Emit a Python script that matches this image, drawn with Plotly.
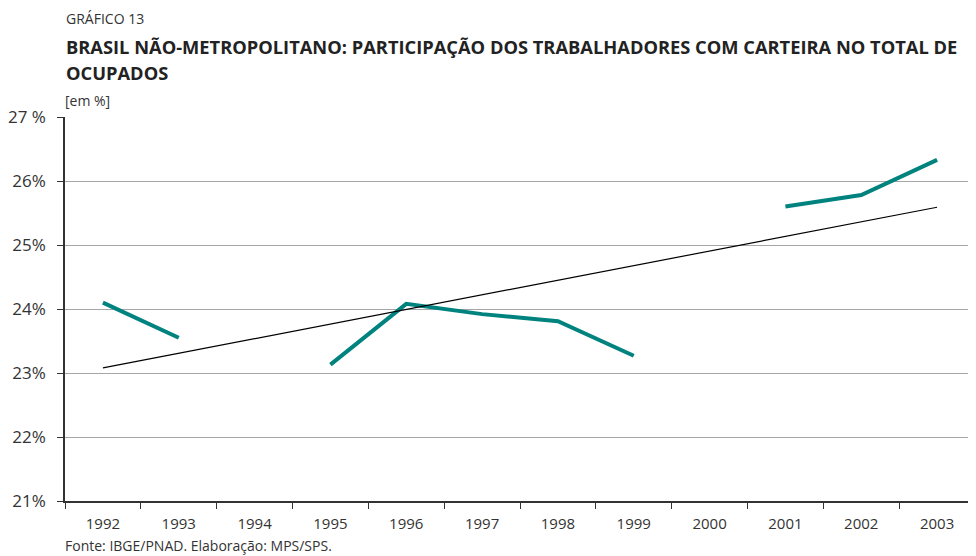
import plotly.graph_objects as go

years = ["1992", "1993", "1994", "1995", "1996", "1997", "1998", "1999", "2000", "2001", "2002", "2003"]
share = [24.10, 23.55, None, 23.13, 24.08, 23.92, 23.81, 23.27, None, 25.60, 25.78, 26.33]
trend_years = ["1992", "2003"]
trend_values = [23.08, 25.59]
y_ticks = [21, 22, 23, 24, 25, 26, 27]
y_labels = ["21%", "22%", "23%", "24%", "25%", "26%", "27 %"]

TEAL = "#00837f"
TEXT = "#333333"
FONT = "Open Sans"

# the page body has an 8px margin, so figure pixels = picture pixels - 8
OFF = 8
LEFT, RIGHT, TOP, BOTTOM = 65 - OFF, 975 - OFF, 117 - OFF, 501 - OFF
W, H = 976, 556


def at(px, py):
    # picture pixel -> paper coords
    return (px - OFF - LEFT) / (RIGHT - LEFT), (BOTTOM - (py - OFF)) / (BOTTOM - TOP)


fig = go.Figure()
fig.add_trace(go.Scatter(
    x=years, y=share, mode="lines", connectgaps=False,
    line=dict(color=TEAL, width=4), showlegend=False,
))
fig.add_trace(go.Scatter(
    x=trend_years, y=trend_values, mode="lines",
    line=dict(color="black", width=1.2), showlegend=False,
))

header = [
    ("GRÁFICO 13", 64, 18, dict(size=14, color=TEXT)),
    ("<b>BRASIL NÃO-METROPOLITANO: PARTICIPAÇÃO DOS TRABALHADORES COM CARTEIRA NO TOTAL DE</b>",
     64, 47, dict(size=18.3, color="#222")),
    ("<b>OCUPADOS</b>", 64, 72, dict(size=18.3, color="#222")),
    ("[em %]", 63, 101, dict(size=14, color=TEXT)),
    ("Fonte: IBGE/PNAD. Elaboração: MPS/SPS.", 63, 545, dict(size=14, color=TEXT)),
]
annotations = []
for text, px_x, px_y, font in header:
    ax, ay = at(px_x, px_y)
    annotations.append(dict(text=text, x=ax, y=ay, xref="paper", yref="paper",
                            xanchor="left", yanchor="middle", showarrow=False, font=font))

fig.update_layout(
    width=W, height=H,
    margin=dict(l=LEFT, r=W - RIGHT, t=TOP, b=H - BOTTOM),
    paper_bgcolor="white", plot_bgcolor="white",
    font=dict(family=FONT, size=14, color=TEXT),
    xaxis=dict(
        type="category", categoryorder="array", categoryarray=years,
        tickson="boundaries", ticks="outside", ticklen=6, tickcolor="#333",
        showline=True, linecolor="#333", linewidth=1.5,
        showgrid=False, tickfont=dict(size=15, color=TEXT), ticklabelstandoff=8,
        range=[-0.5, 11.5], automargin=False,
    ),
    yaxis=dict(
        range=[21, 27], tickvals=y_ticks, ticktext=y_labels,
        ticks="outside", ticklen=6, tickcolor="#333",
        showline=True, linecolor="#333", linewidth=1.5,
        showgrid=True, gridcolor="#a6a6a6", gridwidth=1,
        zeroline=False, tickfont=dict(size=17, color=TEXT), ticklabelstandoff=8,
        automargin=False,
    ),
    shapes=[dict(type="line", xref="paper", yref="paper", x0=1, x1=1, y0=0, y1=1,
                 line=dict(color="#bbbbbb", width=1))],
    annotations=annotations,
)

fig.write_html("out.html")
